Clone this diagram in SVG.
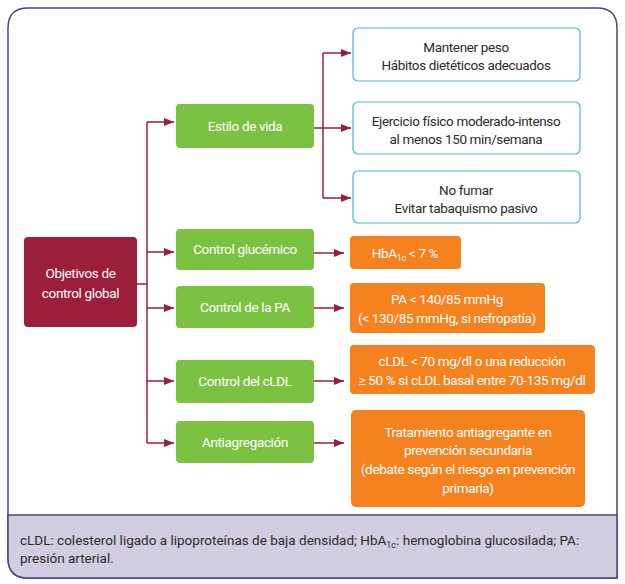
<svg xmlns="http://www.w3.org/2000/svg" width="625" height="584" viewBox="0 0 625 584">
<style>
text{font-family:Roboto,"Liberation Sans",sans-serif;font-size:13.5px;letter-spacing:-0.35px;text-anchor:middle}
.w{fill:#fff}
.d{fill:#2b2b2b}
.g{fill:#7cc242}
.o{fill:#f5821f}
.b{fill:#fff;stroke:#4cb8c8;stroke-width:1.2}
.c{fill:none;stroke:#9b1f3a;stroke-width:1.5}
.f{text-anchor:start;font-size:13.5px;letter-spacing:0px;fill:#2b2b2b}
</style>
<defs>
<marker id="ah" markerWidth="10" markerHeight="8" refX="10" refY="4" orient="auto" markerUnits="userSpaceOnUse">
<path d="M0,0 L10,4 L0,8 Z" fill="#9b1f3a"/>
</marker>
</defs>
<path d="M28,8 H597 Q617,8 617,28 V578 H28 Q8,578 8,558 V28 Q8,8 28,8 Z" fill="#fff" stroke="#4a4580" stroke-width="1.5"/>
<path d="M8,515 H617 V578 H28 Q8,578 8,558 Z" fill="#d2cde0" stroke="#4a4580" stroke-width="1.5"/>
<text class="f" x="20" y="545">cLDL: colesterol ligado a lipoproteínas de baja densidad; HbA<tspan font-size="9" dy="3">1c</tspan><tspan dy="-3">: hemoglobina glucosilada; PA:</tspan></text>
<text class="f" x="20" y="563">presión arterial.</text>
<g id="connectors">
<path class="c" d="M137,284 H147"/>
<path class="c" d="M147,122 V443"/>
<path class="c" d="M147,122 H174" marker-end="url(#ah)"/>
<path class="c" d="M147,252 H174" marker-end="url(#ah)"/>
<path class="c" d="M147,308 H174" marker-end="url(#ah)"/>
<path class="c" d="M147,381 H174" marker-end="url(#ah)"/>
<path class="c" d="M147,443 H174" marker-end="url(#ah)"/>
<path class="c" d="M314,128 H351" marker-end="url(#ah)"/>
<path class="c" d="M323,53 V198"/>
<path class="c" d="M323,53 H351" marker-end="url(#ah)"/>
<path class="c" d="M323,198 H351" marker-end="url(#ah)"/>
<path class="c" d="M314,253 H344" marker-end="url(#ah)"/>
<path class="c" d="M314,308 H344" marker-end="url(#ah)"/>
<path class="c" d="M314,381 H344" marker-end="url(#ah)"/>
<path class="c" d="M314,443 H344" marker-end="url(#ah)"/>
</g>
<g id="objetivos">
<rect x="24" y="237" width="113" height="90" rx="4" fill="#9b1f3a"/>
<text class="w" x="80.5" y="278">Objetivos de</text>
<text class="w" x="80.5" y="298">control global</text>
</g>
<g id="estilo">
<rect class="g" x="176" y="104" width="138" height="44" rx="4"/>
<text class="w" x="245" y="131">Estilo de vida</text>
</g>
<g id="glucemico">
<rect class="g" x="176" y="229" width="138" height="41" rx="4"/>
<text class="w" x="245" y="254">Control glucémico</text>
</g>
<g id="pa">
<rect class="g" x="176" y="286" width="138" height="42" rx="4"/>
<text class="w" x="245" y="312">Control de la PA</text>
</g>
<g id="cldl">
<rect class="g" x="176" y="360" width="138" height="43" rx="4"/>
<text class="w" x="245" y="386">Control del cLDL</text>
</g>
<g id="antiagregacion">
<rect class="g" x="176" y="421" width="138" height="42" rx="4"/>
<text class="w" x="245" y="447">Antiagregación</text>
</g>
<g id="peso">
<rect class="b" x="353" y="28" width="227" height="53" rx="5"/>
<text class="d" x="466" y="52">Mantener peso</text>
<text class="d" x="466" y="70">Hábitos dietéticos adecuados</text>
</g>
<g id="ejercicio">
<rect class="b" x="353" y="102" width="227" height="52" rx="5"/>
<text class="d" x="466" y="126">Ejercicio físico moderado-intenso</text>
<text class="d" x="466" y="144">al menos 150 min/semana</text>
</g>
<g id="fumar">
<rect class="b" x="353" y="171" width="227" height="52" rx="5"/>
<text class="d" x="466" y="195">No fumar</text>
<text class="d" x="466" y="213">Evitar tabaquismo pasivo</text>
</g>
<g id="hba">
<rect class="o" x="350" y="236" width="111" height="33" rx="4"/>
<text class="w" x="405" y="258">HbA<tspan font-size="9" dy="3">1c</tspan><tspan dy="-3"> &lt; 7 %</tspan></text>
</g>
<g id="pa-obj">
<rect class="o" x="350" y="283" width="195" height="50" rx="4"/>
<text class="w" x="447" y="304">PA &lt; 140/85 mmHg</text>
<text class="w" x="447" y="323">(&lt; 130/85 mmHg, si nefropatía)</text>
</g>
<g id="cldl-obj">
<rect class="o" x="350" y="345" width="245" height="49" rx="4"/>
<text class="w" x="472" y="366">cLDL &lt; 70 mg/dl o una reducción</text>
<text class="w" x="472" y="385">≥ 50 % si cLDL basal entre 70-135 mg/dl</text>
</g>
<g id="antiagregante">
<rect class="o" x="351" y="410" width="234" height="97" rx="5"/>
<text class="w" x="468" y="437">Tratamiento antiagregante en</text>
<text class="w" x="468" y="455">prevención secundaria</text>
<text class="w" x="468" y="474">(debate según el riesgo en prevención</text>
<text class="w" x="468" y="493">primaria)</text>
</g>
</svg>
